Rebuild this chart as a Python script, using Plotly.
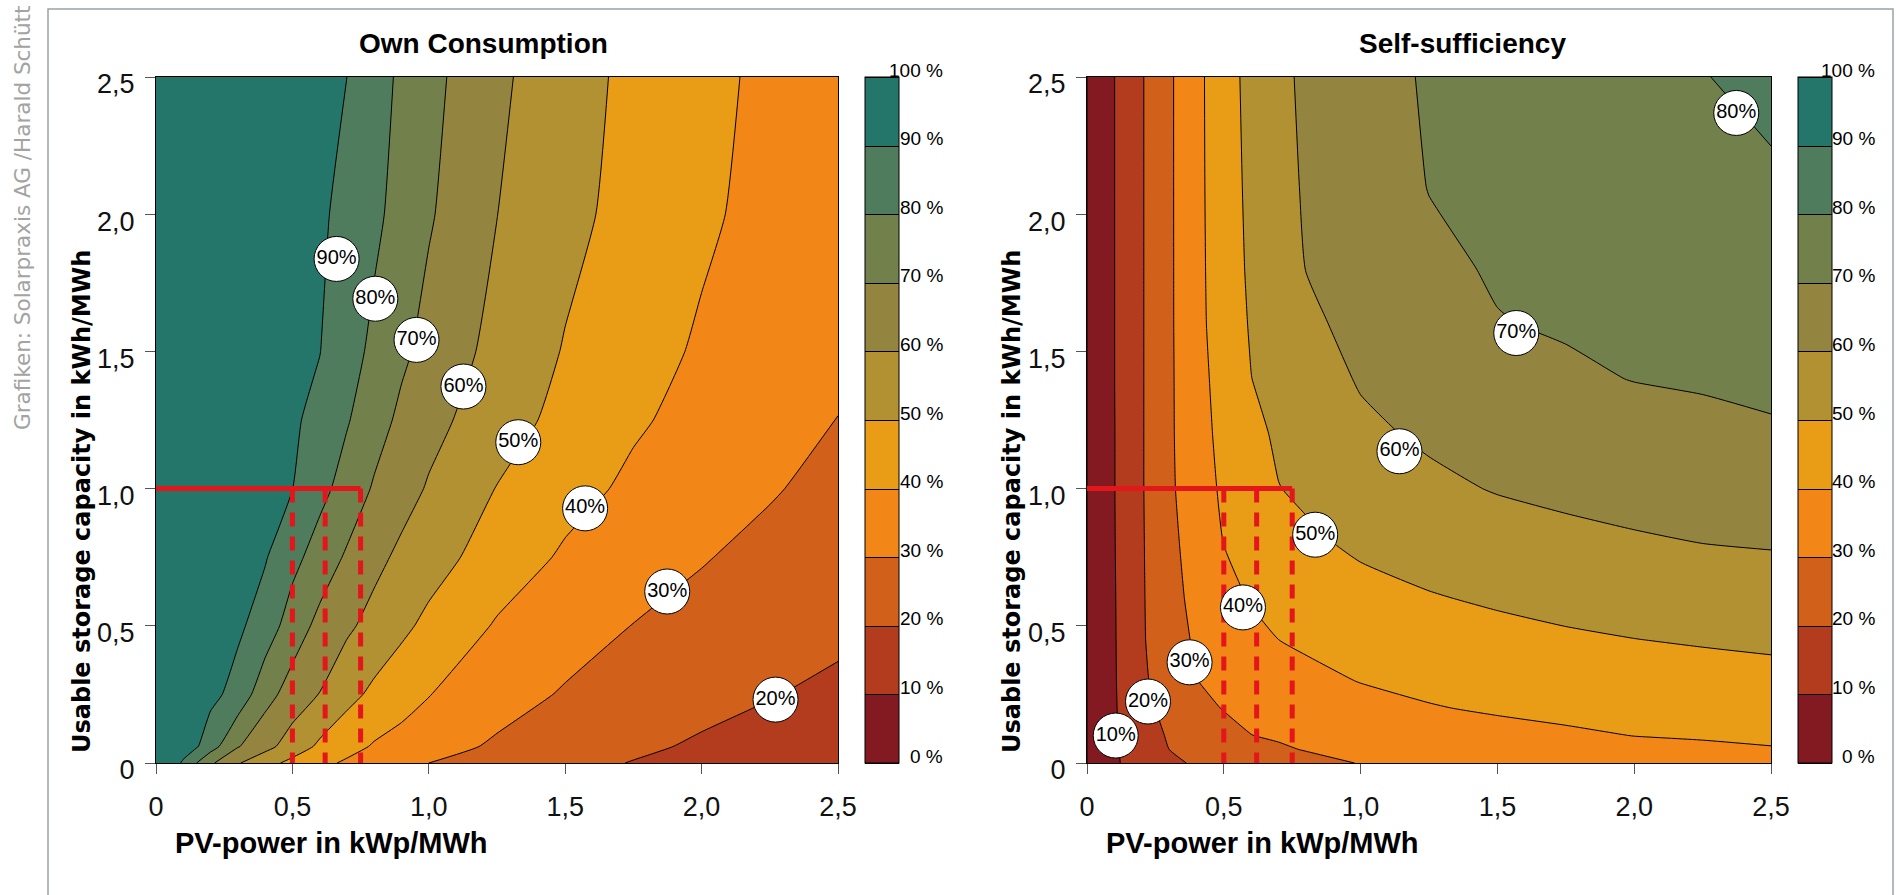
import plotly.graph_objects as go

W, H = 1896, 895

# ---------------- data ----------------
# Own consumption [%]: PV power (kWp/MWh) x storage (kWh/MWh)
oc_x = [0, 0.05, 0.1, 0.15, 0.2, 0.3, 0.4, 0.5, 0.6, 0.7, 0.8, 0.9, 1.0, 1.25, 1.5, 1.75, 2.0, 2.25, 2.5]
oc_y = [0, 0.06, 0.25, 0.5, 0.75, 1.0, 1.25, 1.5, 2.0, 2.5]
oc_z = [
    [100, 94.7, 88.9, 79.8, 71.6, 60.8, 53.4, 47.4, 42.5, 38.6, 35.7, 32.8, 30.0, 26.4, 22.9, 19.6, 17.0, 14.5, 12.0],
    [100, 96.9, 93.8, 90.7, 84.2, 70.6, 63.1, 55.3, 48.3, 43.3, 39.1, 36.5, 33.9, 28.6, 25.2, 21.8, 18.7, 16.1, 13.5],
    [100, 98.2, 96.4, 94.5, 92.7, 86.4, 73.6, 65.8, 59.7, 53.0, 47.9, 44.1, 40.3, 34.1, 29.1, 26.2, 23.3, 20.5, 17.6],
    [100, 98.6, 97.2, 95.8, 94.4, 91.7, 85.6, 75.1, 67.4, 61.7, 56.7, 52.0, 47.8, 39.1, 34.4, 29.8, 27.4, 25.0, 22.6],
    [100, 98.8, 97.7, 96.5, 95.3, 93.0, 90.7, 83.1, 75.4, 68.8, 62.7, 57.9, 54.0, 45.4, 38.7, 34.6, 30.5, 27.7, 25.0],
    [100, 99.0, 98.0, 97.0, 96.0, 94.1, 92.1, 90.1, 83.1, 75.8, 69.0, 63.8, 59.1, 49.7, 43.3, 38.2, 34.5, 30.7, 27.5],
    [100, 99.1, 98.2, 97.3, 96.5, 94.7, 92.9, 91.2, 87.6, 80.8, 73.9, 68.0, 63.2, 54.2, 47.2, 41.2, 37.1, 33.5, 29.9],
    [100, 99.2, 98.4, 97.6, 96.7, 95.1, 93.5, 91.8, 90.2, 84.1, 77.7, 71.8, 66.9, 56.9, 49.4, 43.7, 38.8, 35.1, 31.5],
    [100, 99.3, 98.5, 97.8, 97.0, 95.5, 94.0, 92.5, 91.0, 88.2, 82.1, 76.4, 71.0, 60.1, 52.7, 46.7, 41.6, 37.0, 32.5],
    [100, 99.3, 98.6, 97.9, 97.1, 95.7, 94.3, 92.9, 91.4, 90.0, 84.0, 78.3, 72.9, 61.9, 54.0, 47.7, 42.7, 37.9, 33.5],
]

# Self-sufficiency [%]
ss_x = [0, 0.05, 0.1, 0.15, 0.2, 0.3, 0.4, 0.5, 0.6, 0.7, 0.8, 1.0, 1.25, 1.5, 1.75, 2.0, 2.25, 2.5]
ss_y = [0, 0.05, 0.1, 0.2, 0.3, 0.45, 0.6, 0.8, 1.0, 1.2, 1.4, 1.6, 1.8, 2.1, 2.5]
ss_z = [
    [0, 4.4, 8.8, 11.6, 13.8, 18.3, 21.0, 22.6, 24.3, 25.9, 27.6, 30.3, 31.6, 32.8, 34.1, 35.4, 36.7, 38.0],
    [0, 4.5, 8.9, 12.0, 14.7, 20.0, 22.3, 24.5, 27.0, 29.0, 30.4, 32.0, 33.6, 35.1, 36.5, 37.8, 38.8, 39.6],
    [0, 4.5, 9.0, 12.5, 15.6, 20.9, 23.9, 26.9, 29.9, 30.9, 31.9, 33.7, 35.5, 37.3, 38.8, 40.1, 40.6, 41.2],
    [0, 4.6, 9.2, 13.2, 17.2, 22.8, 27.3, 30.4, 32.0, 33.5, 34.8, 37.0, 39.5, 41.0, 42.0, 42.9, 43.6, 44.2],
    [0, 4.6, 9.3, 13.9, 18.4, 24.5, 29.9, 31.7, 34.0, 36.1, 37.7, 40.3, 42.1, 43.6, 44.7, 45.7, 46.5, 47.3],
    [0, 4.7, 9.4, 14.2, 19.0, 26.0, 31.2, 34.1, 37.5, 40.0, 41.4, 43.8, 45.7, 47.4, 48.8, 49.9, 50.8, 51.6],
    [0, 4.8, 9.5, 14.3, 19.1, 26.7, 32.6, 37.2, 40.6, 42.7, 44.4, 47.3, 49.4, 51.1, 52.6, 53.8, 54.8, 55.5],
    [0, 4.9, 9.7, 14.5, 19.2, 27.5, 34.1, 40.1, 42.9, 46.3, 48.5, 51.4, 53.8, 56.0, 57.7, 59.0, 60.0, 60.6],
    [0, 4.9, 9.8, 14.6, 19.3, 28.3, 35.6, 41.5, 45.5, 49.8, 51.4, 54.9, 58.2, 60.5, 61.9, 63.0, 64.0, 64.9],
    [0, 4.9, 9.8, 14.6, 19.3, 28.5, 36.3, 42.6, 47.7, 51.3, 53.6, 58.3, 61.3, 63.6, 65.3, 66.8, 68.0, 69.1],
    [0, 4.95, 9.9, 14.6, 19.3, 28.5, 36.7, 43.7, 49.9, 53.0, 56.0, 60.7, 63.2, 66.6, 68.8, 70.2, 70.8, 71.6],
    [0, 4.95, 9.9, 14.6, 19.3, 28.5, 37.3, 44.7, 50.8, 54.7, 58.4, 62.3, 66.0, 69.7, 70.7, 71.5, 72.4, 73.6],
    [0, 4.95, 9.9, 14.6, 19.3, 28.5, 37.4, 45.2, 51.5, 55.9, 60.1, 63.8, 68.4, 70.7, 71.7, 72.8, 74.0, 75.6],
    [0, 4.95, 9.9, 14.6, 19.3, 28.5, 37.5, 45.6, 52.1, 57.1, 60.9, 65.3, 70.2, 71.7, 73.2, 74.8, 76.5, 78.7],
    [0, 4.95, 9.9, 14.6, 19.3, 28.5, 37.5, 46.0, 52.8, 58.0, 61.5, 66.4, 70.9, 73.1, 75.3, 77.5, 79.7, 82.2],
]

levels = [0, 10, 20, 30, 40, 50, 60, 70, 80, 90, 100]
level_text = ["0 %", "10 %", "20 %", "30 %", "40 %", "50 %", "60 %", "70 %", "80 %", "90 %", "100 %"]
band_colors = ["#831a21", "#b33c1e", "#d0601a", "#f28616", "#e99c16",
               "#b29132", "#93843f", "#72814b", "#4f7c5c", "#25766a"]

# contour labels
oc_lab_x = [0.662, 0.804, 0.955, 1.127, 1.328, 1.573, 1.874, 2.271]
oc_lab_y = [1.837, 1.692, 1.542, 1.372, 1.169, 0.928, 0.625, 0.231]
oc_lab_t = ["90%", "80%", "70%", "60%", "50%", "40%", "30%", "20%"]
ss_lab_x = [0.105, 0.223, 0.375, 0.570, 0.834, 1.142, 1.569, 2.373]
ss_lab_y = [0.100, 0.224, 0.367, 0.567, 0.832, 1.136, 1.567, 2.369]
ss_lab_t = ["10%", "20%", "30%", "40%", "50%", "60%", "70%", "80%"]

# red markers: storage 1.0 kWh/MWh and PV 0.5 / 0.62 / 0.75 kWp/MWh
mark_storage = 1.0
mark_pv = [0.5, 0.62, 0.75]

tick_vals = [0, 0.5, 1.0, 1.5, 2.0, 2.5]
tick_text = ["0", "0,5", "1,0", "1,5", "2,0", "2,5"]

# ---------------- styling ----------------
NARROW = "Liberation Sans Narrow, Arial Narrow, Liberation Sans, Arial, sans-serif"
SANS = "Liberation Sans, Arial, sans-serif"
WIDE = "DejaVu Sans, Verdana, sans-serif"
RED = "#e3161c"

def px(v):
    return v / W

def py(v):
    return 1 - v / H

PLOT_TOP, PLOT_BOT = 77, 763
panels = [
    dict(x=oc_x, y=oc_y, z=oc_z, xd=(156, 838), cb=865, cblab=945,
         lx=oc_lab_x, ly=oc_lab_y, lt=oc_lab_t, title="Own Consumption", tx=483,
         xtitle_x=173, ytitle_x=82),
    dict(x=ss_x, y=ss_y, z=ss_z, xd=(1087, 1771), cb=1798, cblab=1877,
         lx=ss_lab_x, ly=ss_lab_y, lt=ss_lab_t, title="Self-sufficiency", tx=1462,
         xtitle_x=1104, ytitle_x=1012),
]

cs = []
n = len(band_colors)
for i, c in enumerate(band_colors):
    cs.append([i / n, c])
    cs.append([(i + 1) / n, c])

fig = go.Figure()
annotations = []

for k, p in enumerate(panels):
    xa = "x" if k == 0 else "x2"
    ya = "y" if k == 0 else "y2"
    fig.add_trace(go.Contour(
        x=p["x"], y=p["y"], z=p["z"], xaxis=xa, yaxis=ya,
        zmin=0, zmax=100, autocontour=False,
        contours=dict(start=levels[0], end=levels[-1], size=10, coloring="fill", showlines=True),
        line=dict(color="black", width=1, smoothing=0.5),
        colorscale=cs, hoverinfo="skip",
        colorbar=dict(x=px(p["cb"]), xanchor="left", y=py(PLOT_BOT), yanchor="bottom",
                      len=(PLOT_BOT - PLOT_TOP) / H, lenmode="fraction",
                      thickness=34, thicknessmode="pixels", xpad=0, ypad=0,
                      outlinewidth=1, outlinecolor="black",
                      showticklabels=False, ticks=""),
    ))
    # red reference lines
    fig.add_trace(go.Scatter(x=[0, mark_pv[-1]], y=[mark_storage, mark_storage], xaxis=xa, yaxis=ya,
                             mode="lines", line=dict(color=RED, width=5), hoverinfo="skip"))
    for xv in mark_pv:
        fig.add_trace(go.Scatter(x=[xv, xv], y=[mark_storage, 0], xaxis=xa, yaxis=ya, mode="lines",
                                 line=dict(color=RED, width=5, dash="14px,10px"), hoverinfo="skip"))
    # contour labels
    fig.add_trace(go.Scatter(
        x=p["lx"], y=p["ly"], text=p["lt"], xaxis=xa, yaxis=ya, mode="markers+text",
        marker=dict(size=45, color="white", line=dict(color="black", width=1)),
        textposition="middle center", textfont=dict(family=NARROW, size=20, color="black"),
        hoverinfo="skip"))

    axis_common = dict(range=[0, 2.5], tickvals=tick_vals, ticktext=tick_text, ticks="outside",
                       ticklen=10, tickcolor="#555", showline=True, linecolor="black", linewidth=1,
                       mirror=True, showgrid=False, zeroline=False, automargin=False,
                       tickfont=dict(family=NARROW, size=27, color="#111"))
    fig.update_layout(**{
        ("xaxis" if k == 0 else "xaxis2"): dict(axis_common, domain=[px(p["xd"][0]), px(p["xd"][1])],
                                               anchor=ya, ticklabelstandoff=10),
        ("yaxis" if k == 0 else "yaxis2"): dict(axis_common, domain=[py(PLOT_BOT), py(PLOT_TOP)],
                                               anchor=xa, ticklabelshift=7, ticklabelstandoff=5),
    })

    annotations.append(dict(text="<b>%s</b>" % p["title"], x=px(p["tx"]), y=py(44), xref="paper",
                            yref="paper", showarrow=False, xanchor="center", yanchor="middle",
                            font=dict(family=SANS, size=28, color="black")))
    annotations.append(dict(text="<b>PV-power in kWp/MWh</b>", x=px(p["xtitle_x"]), y=py(843),
                            xref="paper", yref="paper", showarrow=False, xanchor="left",
                            yanchor="middle", font=dict(family=SANS, size=29, color="black")))
    annotations.append(dict(text="<b>Usable storage capacity in kWh/MWh</b>", x=px(p["ytitle_x"]),
                            y=py(502), xref="paper", yref="paper", showarrow=False, textangle=-90,
                            xanchor="center", yanchor="middle",
                            font=dict(family=WIDE, size=24, color="black")))
    for lv, lt in zip(levels, level_text):
        ypix = PLOT_BOT - lv / 100 * (PLOT_BOT - PLOT_TOP) - 7
        annotations.append(dict(text=lt, x=px(p["cblab"]), y=py(ypix), xref="paper", yref="paper",
                                showarrow=False, xanchor="right", yanchor="middle",
                                font=dict(family=NARROW, size=19, color="black")))

annotations.append(dict(text="Grafiken: Solarpraxis AG /Harald Schütt", x=px(23), y=py(218),
                        xref="paper", yref="paper", showarrow=False, textangle=-90,
                        xanchor="center", yanchor="middle",
                        font=dict(family=WIDE, size=21.5, color="#a3a3a3")))

fig.update_layout(
    width=W, height=H, margin=dict(l=0, r=0, t=0, b=0, pad=0, autoexpand=False), autosize=False,
    paper_bgcolor="white", plot_bgcolor="white", showlegend=False,
    annotations=annotations,
    shapes=[dict(type="rect", xref="paper", yref="paper", x0=px(48), x1=px(1893), y0=py(900),
                 y1=py(9), line=dict(color="#9aa1a8", width=1.5), fillcolor="rgba(0,0,0,0)",
                 layer="below")],
)

fig.write_html("out.html", config={"displayModeBar": False},
               post_script="document.body.style.margin='0px';document.body.style.overflow='hidden';")
